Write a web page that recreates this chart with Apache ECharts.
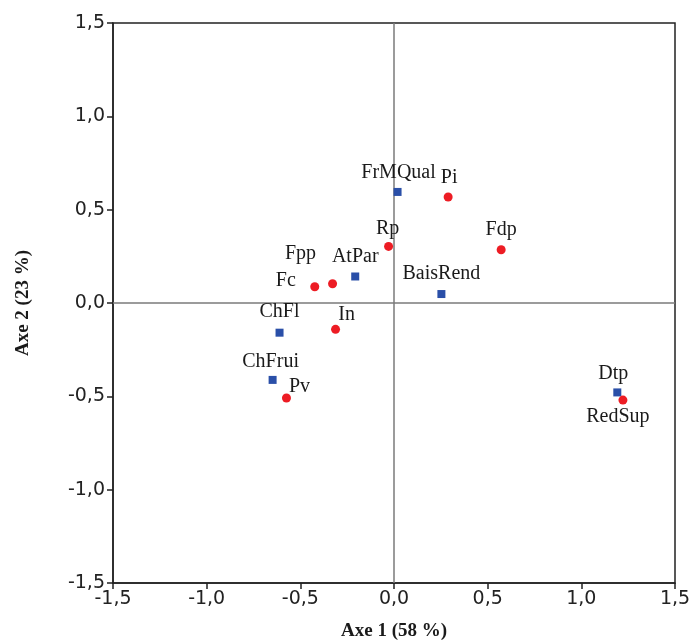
<!DOCTYPE html>
<html>
<head>
<meta charset="utf-8">
<script src="https://cdn.jsdelivr.net/npm/echarts@6/dist/echarts.min.js"></script>
<style>
  html, body { margin: 0; padding: 0; background: #fff; }
  #chart { width: 690px; height: 641px; }
</style>
</head>
<body>
<div id="chart"></div>
<script>
// variables (carrés bleus)
const squareNames = ['FrMQual', 'AtPar', 'BaisRend', 'ChFl', 'ChFrui', 'Dtp'];
const squareX = [0.019, -0.207, 0.253, -0.611, -0.648, 1.192];
const squareY = [0.595, 0.142, 0.048, -0.159, -0.412, -0.479];

// variables (ronds rouges)
const circleNames = ['Pi', 'Rp', 'Fdp', 'Fpp', 'Fc', 'In', 'Pv', 'RedSup'];
const circleX = [0.289, -0.029, 0.572, -0.328, -0.423, -0.312, -0.574, 1.222];
const circleY = [0.568, 0.303, 0.285, 0.103, 0.087, -0.141, -0.509, -0.520];

const axisTicks = [-1.5, -1.0, -0.5, 0.0, 0.5, 1.0, 1.5];

// décalage des étiquettes par rapport au point (px)
const labelOffset = {
    FrMQual: [1, -19], AtPar: [0, -20], BaisRend: [0, -20], ChFl: [0, -21],
    ChFrui: [-2, -18], Dtp: [-4, -19],
    Pi: [1, -19], Rp: [-1, -18], Fdp: [0, -20], Fpp: [-32, -30], Fc: [-29, -6],
    In: [11, -15], Pv: [13, -11], RedSup: [-5, 17]
};

function buildData(names, xs, ys){
    return names.map(function(n, i){
        return {
            name: n,
            value: [xs[i], ys[i]],
            label: { offset: labelOffset[n] }
        };
    });
}

const fmt = function(v){ return v.toFixed(1).replace('.', ','); };

const pointLabel = {
    show: true,
    position: 'inside',
    formatter: '{b}',
    color: '#1a1a1a',
    fontFamily: 'Liberation Serif',
    fontSize: 20
};

const axisName = { fontFamily: 'Liberation Serif', fontWeight: 'bold', fontSize: 19, color: '#1a1a1a' };

const chart = echarts.init(document.getElementById('chart'));
chart.setOption({
    backgroundColor: '#fff',
    animation: false,
    grid: {
        left: 113, right: 15, top: 23, bottom: 58,
        show: true, borderColor: '#222', borderWidth: 1.5,
        containLabel: false,
        outerBoundsMode: 'none'
    },
    xAxis: {
        type: 'value', min: axisTicks[0], max: axisTicks[axisTicks.length - 1], interval: 0.5,
        name: 'Axe 1 (58 %)', nameLocation: 'middle', nameGap: 39,
        nameTextStyle: axisName,
        axisLine: { show: true, onZero: false, lineStyle: { color: '#222', width: 1.5 } },
        axisTick: { show: true, length: 6, lineStyle: { color: '#222', width: 1.5 } },
        axisLabel: { formatter: fmt, fontFamily: 'DejaVu Sans', fontSize: 19, color: '#222', margin: 7 },
        splitLine: { show: false }
    },
    yAxis: {
        type: 'value', min: axisTicks[0], max: axisTicks[axisTicks.length - 1], interval: 0.5,
        name: 'Axe 2 (23 %)', nameLocation: 'middle', nameGap: 80, nameRotate: 90,
        nameTextStyle: axisName,
        axisLine: { show: true, onZero: false, lineStyle: { color: '#222', width: 1.5 } },
        axisTick: { show: true, length: 6, lineStyle: { color: '#222', width: 1.5 } },
        axisLabel: { formatter: fmt, fontFamily: 'DejaVu Sans', fontSize: 19, color: '#222', margin: 8 },
        splitLine: { show: false }
    },
    series: [
        {
            type: 'scatter',
            symbol: 'rect',
            symbolSize: 8,
            itemStyle: { color: '#2A4FA8', opacity: 1 },
            label: pointLabel,
            data: buildData(squareNames, squareX, squareY),
            markLine: {
                silent: true,
                symbol: 'none',
                label: { show: false },
                lineStyle: { color: '#7a7a7a', width: 1.5, type: 'solid' },
                z: 1,
                data: [{ xAxis: 0 }, { yAxis: 0 }]
            }
        },
        {
            type: 'scatter',
            symbol: 'circle',
            symbolSize: 9,
            itemStyle: { color: '#ED1C24', opacity: 1 },
            label: pointLabel,
            data: buildData(circleNames, circleX, circleY)
        }
    ]
});
</script>
</body>
</html>
